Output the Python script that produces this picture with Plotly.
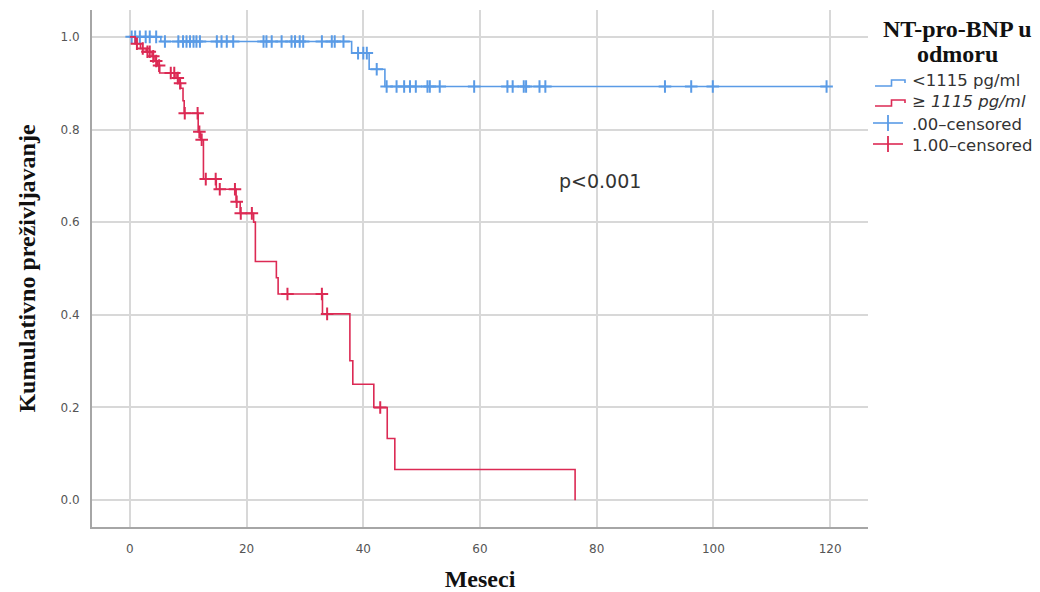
import plotly.graph_objects as go
import numpy as np

# Kaplan-Meier step data: event times (months) and survival after each step
blue_t = [0, 5.3, 38.0, 41.0, 43.7, 119.4]
blue_s = [1.0, 0.990, 0.965, 0.930, 0.893, 0.893]
blue_cens = [0.3, 0.9, 1.7, 2.7, 3.4, 4.5, 6.0, 8.3, 9.1, 9.7, 10.3, 10.9, 11.4, 12.0,
             14.9, 15.7, 16.6, 17.7, 22.9, 23.4, 24.3, 26.0, 27.7, 28.3, 29.1, 29.7,
             32.9, 34.6, 35.1, 36.6, 39.1, 40.0, 40.6, 42.3, 44.0, 45.7, 47.0, 48.0,
             49.0, 51.0, 51.4, 53.1, 59.0, 64.7, 65.6, 67.5, 67.9, 70.2, 71.2, 91.7,
             96.2, 99.9, 119.4]

red_t = [0, 0.9, 1.8, 2.8, 3.8, 4.3, 4.7, 5.1, 7.9, 8.4, 8.7, 9.1, 9.3, 11.7, 12.1,
         12.6, 14.8, 18.2, 18.9, 21.2, 21.5, 25.1, 25.4, 33.0, 37.7, 38.2, 41.8, 44.1,
         45.4, 76.3]
red_s = [1.0, 0.985, 0.975, 0.968, 0.958, 0.948, 0.938, 0.922, 0.911, 0.900, 0.889,
         0.862, 0.835, 0.795, 0.778, 0.693, 0.671, 0.644, 0.619, 0.600, 0.515, 0.480,
         0.445, 0.402, 0.301, 0.250, 0.200, 0.133, 0.066, 0.0]
red_cens = [1.2, 2.2, 3.0, 3.4, 4.0, 4.5, 5.0, 7.0, 7.6, 8.2, 8.6, 9.4, 11.6, 11.9,
            12.3, 13.0, 14.7, 15.4, 18.0, 18.3, 19.0, 20.9, 27.0, 32.9, 33.8, 42.9]

x_ticks = [0, 20, 40, 60, 80, 100, 120]
y_ticks = [0.0, 0.2, 0.4, 0.6, 0.8, 1.0]

BLUE = "#5a9be6"
RED = "#dc2a54"


def surv_at(times, surv, t):
    idx = np.searchsorted(times, t, side="right") - 1
    return surv[max(idx, 0)]


fig = go.Figure()
for t, s, cens, col in [(blue_t, blue_s, blue_cens, BLUE), (red_t, red_s, red_cens, RED)]:
    fig.add_trace(go.Scatter(x=t, y=s, mode="lines", line=dict(color=col, width=1.6, shape="hv"),
                             showlegend=False, hoverinfo="skip"))
    fig.add_trace(go.Scatter(x=cens, y=[surv_at(t, s, c) for c in cens], mode="markers",
                             marker=dict(symbol="cross-thin-open", size=9, color=col,
                                         line=dict(color=col, width=2)),
                             showlegend=False, hoverinfo="skip"))

# plot area in pixels
L, R, T, B = 92, 868, 10, 527
W, H = 1040, 592


def px(x):
    return (x - L) / (R - L)


def py(y):
    return (B - y) / (B - T)


shapes = []
# legend icons: step symbols and censor crosses
for col, yc in [(BLUE, 83), (RED, 103)]:
    path = (f"M {px(875)},{py(yc + 3)} L {px(891.5)},{py(yc + 3)} L {px(891.5)},{py(yc - 3)} "
            f"L {px(905)},{py(yc - 3)} L {px(905)},{py(yc)}")
    shapes.append(dict(type="path", xref="paper", yref="paper", path=path,
                       line=dict(color=col, width=1.6)))
for col, yc in [(BLUE, 123), (RED, 144)]:
    shapes.append(dict(type="line", xref="paper", yref="paper", x0=px(873), x1=px(903),
                       y0=py(yc), y1=py(yc), line=dict(color=col, width=1.6)))
    shapes.append(dict(type="line", xref="paper", yref="paper", x0=px(888), x1=px(888),
                       y0=py(yc - 8), y1=py(yc + 8), line=dict(color=col, width=1.8)))

annotations = [
    dict(x=80.6, y=0.689, xref="x", yref="y", text="p<0.001", showarrow=False,
         xanchor="center", yanchor="middle",
         font=dict(family="DejaVu Sans", size=19, color="#333333")),
    dict(x=px(957), y=py(29), xref="paper", yref="paper", text="<b>NT-pro-BNP u</b>",
         showarrow=False, xanchor="center", yanchor="middle",
         font=dict(family="Liberation Serif", size=24, color="#111111")),
    dict(x=px(957), y=py(54), xref="paper", yref="paper", text="<b>odmoru</b>",
         showarrow=False, xanchor="center", yanchor="middle",
         font=dict(family="Liberation Serif", size=24, color="#111111")),
]
for txt, yc, it in [("&lt;1115 pg/ml", 81, False), ("≥ 1115 pg/ml", 102, True),
                    (".00–censored", 124, False), ("1.00–censored", 145, False)]:
    annotations.append(dict(x=px(910), y=py(yc), xref="paper", yref="paper",
                            text=f"<i>{txt}</i>" if it else txt, showarrow=False,
                            xanchor="left", yanchor="middle",
                            font=dict(family="DejaVu Sans", size=16.5, color="#333333")))

fig.update_layout(
    width=W, height=H,
    margin=dict(l=L, r=W - R, t=T, b=H - B),
    plot_bgcolor="white", paper_bgcolor="white",
    shapes=shapes, annotations=annotations,
    xaxis=dict(range=[-6.5, 126.5], tickvals=x_ticks, ticktext=[str(v) for v in x_ticks],
               showgrid=True, gridcolor="#d8d8d8", gridwidth=1.5, zeroline=False,
               showline=True, linecolor="#a6a6a6", linewidth=2, ticks="",
               ticklabelstandoff=10, automargin=False,
               tickfont=dict(family="DejaVu Sans", size=12, color="#555555"),
               title=dict(text="<b>Meseci</b>", standoff=18,
                          font=dict(family="Liberation Serif", size=24, color="#111111"))),
    yaxis=dict(range=[-0.058, 1.058], tickvals=y_ticks, ticktext=[f"{v:.1f}" for v in y_ticks],
               showgrid=True, gridcolor="#d8d8d8", gridwidth=1.5, zeroline=False,
               showline=True, linecolor="#a6a6a6", linewidth=2, ticks="",
               ticklabelstandoff=8, automargin=False,
               tickfont=dict(family="DejaVu Sans", size=12, color="#555555"),
               title=dict(text="<b>Kumulativno preživljavanje</b>", standoff=18,
                          font=dict(family="Liberation Serif", size=24, color="#111111"))),
)

fig.write_html("out.html")
